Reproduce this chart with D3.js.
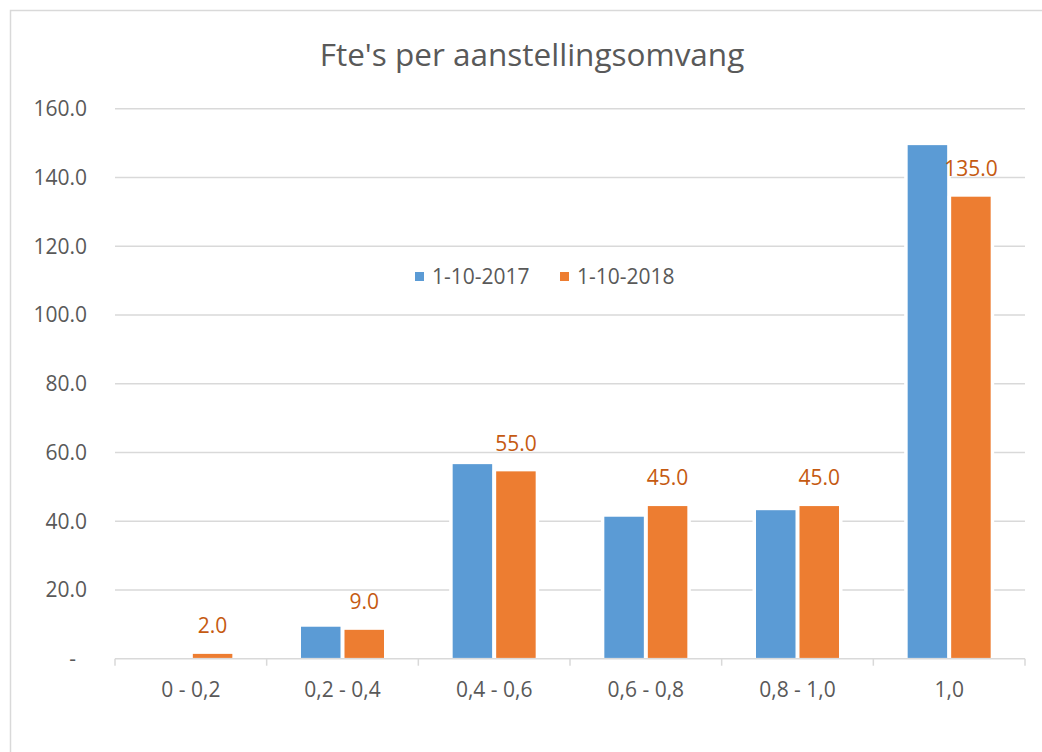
<!DOCTYPE html>
<html>
<head>
<meta charset="utf-8">
<script src="https://cdn.jsdelivr.net/npm/d3@7"></script>
<style>
  body { margin: 0; background: #fff; }
  text { font-family: "Open Sans", "Noto Sans", sans-serif; }
</style>
</head>
<body>
<div id="chart"></div>
<script>
// data
var categories = ["0 - 0,2", "0,2 - 0,4", "0,4 - 0,6", "0,6 - 0,8", "0,8 - 1,0", "1,0"];
var seriesNames = ["1-10-2017", "1-10-2018"];
var values2017 = [0, 9.3, 56.6, 41.3, 43.2, 149.4];
var values2018 = [1.4, 8.4, 54.5, 44.4, 44.4, 134.4];
var labels2018 = ["2.0", "9.0", "55.0", "45.0", "45.0", "135.0"];
var yTicks = [0, 20, 40, 60, 80, 100, 120, 140, 160];
var colors = ["#5B9BD5", "#ED7D31"];

var width = 1042, height = 752;
var margin = {top: 108.7, left: 115, right: 17, bottom: 93.3};

var svg = d3.select("#chart").append("svg")
    .attr("width", width)
    .attr("height", height);

// chart frame
svg.append("rect")
    .attr("x", 10.5).attr("y", 10.5)
    .attr("width", 1100).attr("height", 800)
    .attr("fill", "none")
    .attr("stroke", "#d9d9d9")
    .attr("stroke-width", 1.5);

svg.append("text")
    .attr("x", 532)
    .attr("y", 66)
    .attr("text-anchor", "middle")
    .attr("font-size", 31.5)
    .attr("fill", "#595959")
    .text("Fte's per aanstellingsomvang");

var x0 = d3.scaleBand()
    .domain(categories)
    .range([margin.left, width - margin.right]);

var y = d3.scaleLinear()
    .domain([0, 160])
    .range([height - margin.bottom, margin.top]);

// gridlines
svg.append("g")
  .selectAll("line")
  .data(yTicks.slice(1))
  .enter().append("line")
    .attr("x1", margin.left)
    .attr("x2", width - margin.right)
    .attr("y1", function(d) { return y(d); })
    .attr("y2", function(d) { return y(d); })
    .attr("stroke", "#d9d9d9")
    .attr("stroke-width", 1.5);

// y labels
svg.append("g")
  .selectAll("text")
  .data(yTicks)
  .enter().append("text")
    .attr("x", function(d) { return d === 0 ? 76 : 87; })
    .attr("y", function(d) { return y(d); })
    .attr("dy", "0.35em")
    .attr("text-anchor", "end")
    .attr("font-size", 21)
    .attr("fill", "#595959")
    .text(function(d) { return d === 0 ? "-" : d3.format(".1f")(d); });

// x axis
var xAxis = svg.append("g")
    .attr("transform", "translate(0," + y(0) + ")");
xAxis.append("line")
    .attr("x1", margin.left).attr("x2", width - margin.right)
    .attr("stroke", "#d9d9d9").attr("stroke-width", 1.5);
xAxis.selectAll(".tick")
    .data(categories.concat(["end"]))
    .enter().append("line")
    .attr("class", "tick")
    .attr("x1", function(d, i) { return i < categories.length ? x0(d) : width - margin.right; })
    .attr("x2", function(d, i) { return i < categories.length ? x0(d) : width - margin.right; })
    .attr("y1", 0).attr("y2", 7)
    .attr("stroke", "#d9d9d9").attr("stroke-width", 1.5);
xAxis.selectAll(".lbl")
    .data(categories)
    .enter().append("text")
    .attr("class", "lbl")
    .attr("x", function(d) { return x0(d) + x0.bandwidth() / 2; })
    .attr("y", 31)
    .attr("dy", "0.35em")
    .attr("text-anchor", "middle")
    .attr("font-size", 21)
    .attr("fill", "#595959")
    .text(function(d) { return d; });

var x1 = d3.scaleBand()
    .domain(seriesNames)
    .range([-41.5, 41.5])
    .paddingInner(0.092);

var rows = categories.map(function(c, i) {
  return {cat: c, vals: [values2017[i], values2018[i]], label: labels2018[i]};
});

var groups = svg.append("g")
  .selectAll("g")
  .data(rows)
  .enter().append("g")
    .attr("transform", function(d) {
      return "translate(" + (x0(d.cat) + x0.bandwidth() / 2) + ",0)";
    });

var bars = groups.selectAll("g")
  .data(function(d) {
    return d.vals.map(function(v, j) { return {s: seriesNames[j], v: v, j: j}; });
  })
  .enter().append("g");

// white halo around the bars
bars.filter(function(d) { return d.v > 0; })
  .append("rect")
    .attr("x", function(d) { return x1(d.s) - 3.5; })
    .attr("y", function(d) { return y(d.v) - 1; })
    .attr("width", x1.bandwidth() + 7)
    .attr("height", function(d) { return y(0) - y(d.v) - 0.8; })
    .attr("fill", "#fff");

bars.filter(function(d) { return d.v > 0; })
  .append("rect")
    .attr("x", function(d) { return x1(d.s); })
    .attr("y", function(d) { return y(d.v); })
    .attr("width", x1.bandwidth())
    .attr("height", function(d) { return y(0) - y(d.v) - 0.8; })
    .attr("fill", function(d) { return colors[d.j]; });

// data labels of 2018
groups.append("text")
    .attr("x", x1(seriesNames[1]) + x1.bandwidth() / 2)
    .attr("y", function(d) { return y(d.vals[1]) - 28; })
    .attr("dy", "0.35em")
    .attr("text-anchor", "middle")
    .attr("font-size", 21)
    .attr("fill", "#C55A11")
    .text(function(d) { return d.label; });

// legend
var legend = svg.append("g");
var legendX = [415, 560];
seriesNames.forEach(function(s, i) {
  legend.append("rect")
      .attr("x", legendX[i]).attr("y", 272)
      .attr("width", 9).attr("height", 9)
      .attr("fill", colors[i]);
  legend.append("text")
      .attr("x", legendX[i] + 17)
      .attr("y", 276.5)
      .attr("dy", "0.35em")
      .attr("font-size", 21)
      .attr("fill", "#595959")
      .text(s);
});
</script>
</body>
</html>
